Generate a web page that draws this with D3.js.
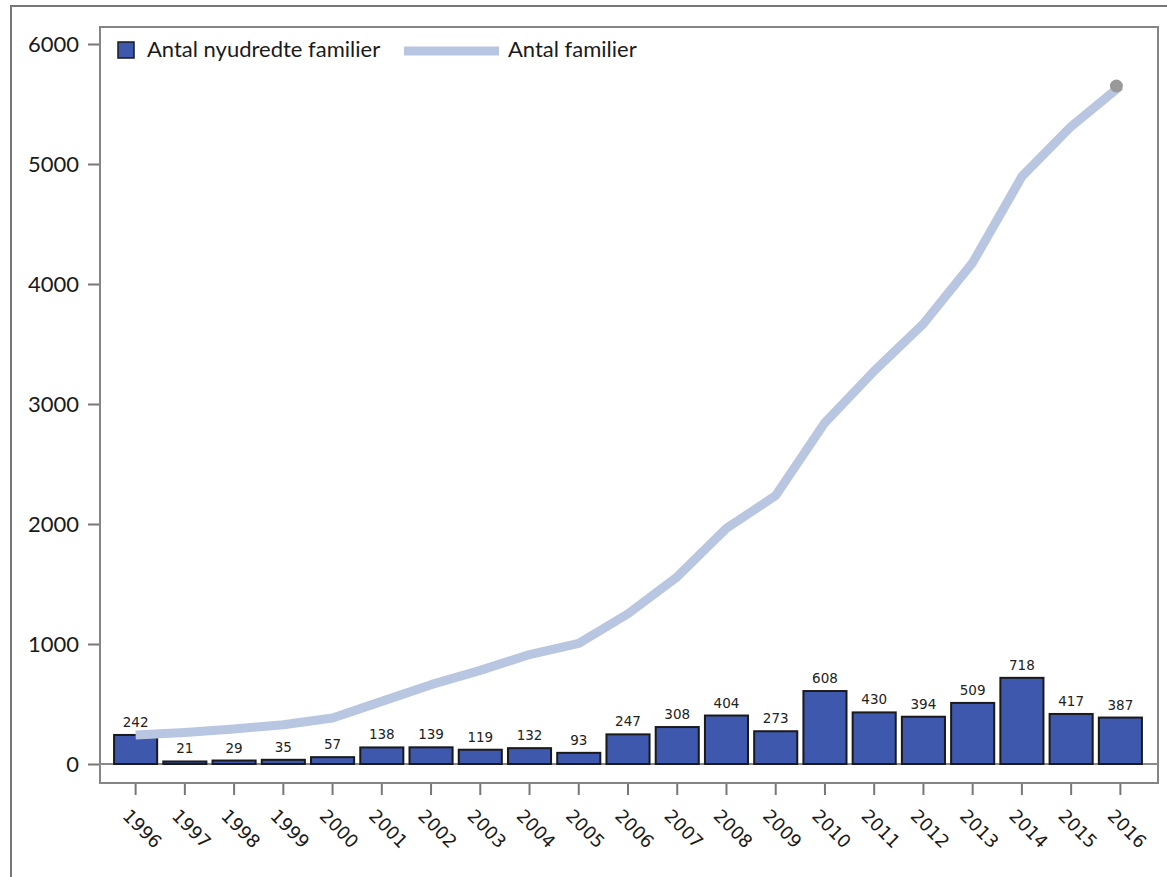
<!DOCTYPE html>
<html>
<head>
<meta charset="utf-8">
<script src="https://cdn.jsdelivr.net/npm/d3@7"></script>
<style>
  html, body { margin: 0; padding: 0; background: #fff; }
  svg { display: block; }
</style>
</head>
<body>
<script>
// Years on the x axis
const years = ["1996","1997","1998","1999","2000","2001","2002","2003","2004","2005",
               "2006","2007","2008","2009","2010","2011","2012","2013","2014","2015","2016"];
// New families per year (bars)
const newFamilies = [242, 21, 29, 35, 57, 138, 139, 119, 132, 93,
                     247, 308, 404, 273, 608, 430, 394, 509, 718, 417, 387];
// Total number of families (line)
const totalFamilies = [242, 263, 292, 327, 384, 522, 661, 780, 912, 1005,
                       1252, 1560, 1964, 2237, 2845, 3275, 3669, 4178, 4896, 5313, 5650];
// Y axis ticks
const yTicks = [0, 1000, 2000, 3000, 4000, 5000, 6000];
const seriesNames = ["Antal nyudredte familier", "Antal familier"];

const W = 1167, H = 877;
const frame = { left: 100, top: 27, right: 1158, bottom: 783 };
const labelFont = "Lato, 'Open Sans', sans-serif";
const smallFont = "'DejaVu Sans', Verdana, sans-serif";

const svg = d3.select("body").append("svg").attr("width", W).attr("height", H);

// outer panel border (left and top edges)
svg.append("path")
  .attr("d", `M11,${H} L11,6 L${W},6`)
  .attr("fill", "none").attr("stroke", "#777").attr("stroke-width", 2);

const x = d3.scaleBand().domain(years).range([111, 1145]).paddingInner(0.125).paddingOuter(0.0625);
const y = d3.scaleLinear().domain([0, 6000]).range([764, 44]);

// plot frame
svg.append("rect")
  .attr("x", frame.left).attr("y", frame.top)
  .attr("width", frame.right - frame.left).attr("height", frame.bottom - frame.top)
  .attr("fill", "#fff").attr("stroke", "#858585").attr("stroke-width", 2);

// zero line
svg.append("line")
  .attr("x1", frame.left).attr("x2", frame.right)
  .attr("y1", y(0)).attr("y2", y(0))
  .attr("stroke", "#8a8a8a").attr("stroke-width", 2);

// y axis
const yAxis = d3.axisLeft(y).tickValues(yTicks).tickSize(11).tickPadding(9).tickFormat(d3.format("d"));
const gy = svg.append("g").attr("transform", `translate(${frame.left - 1},0)`).call(yAxis);
gy.select(".domain").remove();
gy.selectAll(".tick line").attr("stroke", "#777").attr("stroke-width", 2);
gy.selectAll(".tick text").attr("font-family", labelFont)
  .attr("font-size", 22).attr("fill", "#1a1a1a");

// x axis
const xAxis = d3.axisBottom(x).tickSize(11).tickPadding(0);
const gx = svg.append("g").attr("transform", `translate(0,${frame.bottom + 1})`).call(xAxis);
gx.select(".domain").remove();
gx.selectAll(".tick line").attr("stroke", "#777").attr("stroke-width", 2);
gx.selectAll(".tick text")
  .attr("font-family", smallFont)
  .attr("font-size", 18).attr("fill", "#1a1a1a")
  .attr("text-anchor", "start")
  .attr("dy", null)
  .attr("y", null)
  .attr("transform", "translate(-14,33) rotate(45)");

// bars
svg.append("g").selectAll("rect").data(years).join("rect")
  .attr("x", (d) => x(d))
  .attr("y", (d, i) => y(newFamilies[i]))
  .attr("width", x.bandwidth())
  .attr("height", (d, i) => y(0) - y(newFamilies[i]))
  .attr("fill", "#3d58ad").attr("stroke", "#1a1a1a").attr("stroke-width", 2);

// bar value labels
svg.append("g").selectAll("text").data(years).join("text")
  .attr("x", (d) => x(d) + x.bandwidth() / 2)
  .attr("y", (d, i) => y(newFamilies[i]) - 8)
  .attr("text-anchor", "middle")
  .attr("font-family", smallFont)
  .attr("font-size", 13.5).attr("fill", "#222")
  .text((d, i) => newFamilies[i]);

// total families line
const line = d3.line()
  .x((d, i) => x(years[i]) + x.bandwidth() / 2)
  .y((d) => y(d));
svg.append("path").datum(totalFamilies)
  .attr("d", line)
  .attr("fill", "none").attr("stroke", "#b9c6e1").attr("stroke-width", 9)
  .attr("stroke-linejoin", "round");

// end marker
const last = totalFamilies.length - 1;
svg.append("circle")
  .attr("cx", x(years[last]) + x.bandwidth() / 2 - 4)
  .attr("cy", y(totalFamilies[last]))
  .attr("r", 6.5).attr("fill", "#999");

// legend
const lg = svg.append("g").attr("font-family", labelFont)
  .attr("font-size", 22).attr("fill", "#1a1a1a");
lg.append("rect").attr("x", 118).attr("y", 42).attr("width", 16).attr("height", 16)
  .attr("fill", "#3d58ad").attr("stroke", "#1a1a1a").attr("stroke-width", 1.5);
lg.append("text").attr("x", 147).attr("y", 57).text(seriesNames[0]);
lg.append("line").attr("x1", 404).attr("x2", 499).attr("y1", 51).attr("y2", 51)
  .attr("stroke", "#b9c6e1").attr("stroke-width", 9);
lg.append("text").attr("x", 508).attr("y", 57).text(seriesNames[1]);
</script>
</body>
</html>
